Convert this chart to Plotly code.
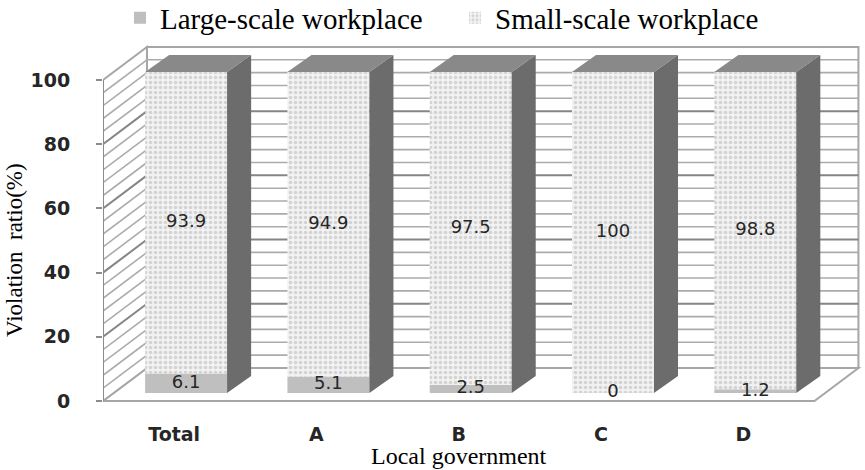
import plotly.graph_objects as go

# ---- data ----
categories = ["Total", "A", "B", "C", "D"]
large_scale = [6.1, 5.1, 2.5, 0, 1.2]
small_scale = [93.9, 94.9, 97.5, 100, 98.8]
series_names = ["Large-scale workplace", "Small-scale workplace"]
y_ticks = [0, 20, 40, 60, 80, 100]

# ---- pseudo-3D geometry (in axis units) ----
DXW, DYW = 0.309, 10.3      # depth of walls/floor
BX0, BY0 = 0.084, 2.5       # front-face offset of bars
BDX, BDY = 0.169, 5.3       # depth of bars
BW = 0.576                  # bar width
YMAX = 100

n = len(categories)
xs = list(range(n))
xf = [x + BX0 for x in xs]

fig = go.Figure()

# bars (front faces)
fig.add_trace(go.Bar(
    x=xf, y=large_scale, base=[BY0] * n, width=BW, name=series_names[0],
    marker=dict(color="#bfbfbf", line=dict(width=0)), hoverinfo="skip"))
fig.add_trace(go.Bar(
    x=xf, y=small_scale, base=[BY0 + l for l in large_scale], width=BW,
    name=series_names[1],
    marker=dict(color="#f2f2f2", line=dict(width=0),
                pattern=dict(shape=".", fgcolor="#b3b3b3", bgcolor="#f2f2f2",
                             size=5, solidity=0.4)),
    hoverinfo="skip"))

# side and top faces computed from data
side_x, side_y, top_x, top_y = [], [], [], []
for x, l, s in zip(xf, large_scale, small_scale):
    xl, xr = x - BW / 2, x + BW / 2
    b0, b1 = BY0, BY0 + l + s
    side_x += [xr, xr, xr + BDX, xr + BDX, xr, None]
    side_y += [b0, b1, b1 + BDY, b0 + BDY, b0, None]
    top_x += [xl, xr, xr + BDX, xl + BDX, xl, None]
    top_y += [b1, b1, b1 + BDY, b1 + BDY, b1, None]
fig.add_trace(go.Scatter(x=side_x, y=side_y, mode="lines", fill="toself",
                         fillcolor="#6c6c6c", line=dict(width=0, color="#6c6c6c"),
                         showlegend=False, hoverinfo="skip"))
fig.add_trace(go.Scatter(x=top_x, y=top_y, mode="lines", fill="toself",
                         fillcolor="#898989", line=dict(width=0, color="#898989"),
                         showlegend=False, hoverinfo="skip"))

# data labels
lab_font = dict(family="DejaVu Sans", size=18, color="#262626")
fig.add_trace(go.Scatter(
    x=xf, y=[BY0 + l / 2 for l in large_scale], mode="text",
    text=[f"{v:g}" for v in large_scale], textfont=lab_font,
    showlegend=False, hoverinfo="skip"))
fig.add_trace(go.Scatter(
    x=xf, y=[BY0 + l + s / 2 for l, s in zip(large_scale, small_scale)],
    mode="text", text=[f"{v:g}" for v in small_scale], textfont=lab_font,
    showlegend=False, hoverinfo="skip"))

# walls, floor and gridlines (decoration)
shapes = []
x0, x1 = -0.5, n - 0.5
wall_line = dict(color="#a6a6a6", width=2)
# back wall
shapes.append(dict(type="rect", xref="x", yref="y", x0=x0 + DXW, x1=x1 + DXW,
                   y0=DYW, y1=YMAX + DYW, fillcolor="white", line=wall_line,
                   layer="below"))
# floor
shapes.append(dict(type="path", xref="x", yref="y",
                   path=f"M {x0},0 L {x1},0 L {x1 + DXW},{DYW} L {x0 + DXW},{DYW} Z",
                   fillcolor="white", line=wall_line, layer="below"))
# left wall
shapes.append(dict(type="path", xref="x", yref="y",
                   path=f"M {x0},0 L {x0},{YMAX} L {x0 + DXW},{YMAX + DYW} L {x0 + DXW},{DYW} Z",
                   fillcolor="white", line=wall_line, layer="below"))
for v in range(4, YMAX, 4):
    major = v % 20 == 0
    col = "#858585" if major else "#ababab"
    w = 2 if major else 1.6
    shapes.append(dict(type="line", xref="x", yref="y", x0=x0 + DXW, x1=x1 + DXW,
                       y0=v + DYW, y1=v + DYW, line=dict(color=col, width=w),
                       layer="below"))
    shapes.append(dict(type="line", xref="x", yref="y", x0=x0, x1=x0 + DXW,
                       y0=v, y1=v + DYW, line=dict(color=col, width=w),
                       layer="below"))
# front y axis line
shapes.append(dict(type="line", xref="x", yref="y", x0=x0, x1=x0, y0=0, y1=YMAX,
                   line=dict(color="#8c8c8c", width=2)))

annotations = [
    dict(text="Violation  ratio(%)", xref="paper", yref="paper",
         x=(14 - 103) / 762, y=(415 - 250) / 375, textangle=-90,
         showarrow=False, xanchor="center", yanchor="middle",
         font=dict(family="Liberation Serif", size=23, color="black")),
    dict(text="Local government", xref="paper", yref="paper",
         x=(459 - 103) / 762, y=(415 - 456) / 375, showarrow=False,
         xanchor="center", yanchor="middle",
         font=dict(family="Liberation Serif", size=24, color="black")),
]

fig.update_layout(
    width=865, height=470,
    margin=dict(l=103, r=0, t=40, b=55, autoexpand=False),
    paper_bgcolor="white", plot_bgcolor="rgba(0,0,0,0)",
    barmode="overlay",
    shapes=shapes, annotations=annotations,
    showlegend=True,
    legend=dict(orientation="h", x=(120 - 103) / 762, y=(415 - 18) / 375,
                xanchor="left", yanchor="middle", traceorder="normal",
                font=dict(family="Liberation Serif", size=29, color="black"),
                entrywidth=290, entrywidthmode="pixels",
                bgcolor="rgba(0,0,0,0)"),
    xaxis=dict(range=[-0.5, 4.855], tickvals=xs, ticktext=categories,
               showgrid=False, zeroline=False, showline=False, ticks="",
               tickfont=dict(family="DejaVu Sans", size=19, color="#262626",
                             weight="bold"),
               ticklabelstandoff=6, fixedrange=True),
    yaxis=dict(range=[-4.36, 112.46], tickvals=y_ticks,
               showgrid=False, zeroline=False, showline=False,
               ticks="outside", ticklen=6, tickcolor="#8c8c8c", tickwidth=2,
               tickfont=dict(family="DejaVu Sans", size=19, color="#262626",
                             weight="bold"),
               ticklabelstandoff=22, fixedrange=True),
)

fig.write_html("out.html")
